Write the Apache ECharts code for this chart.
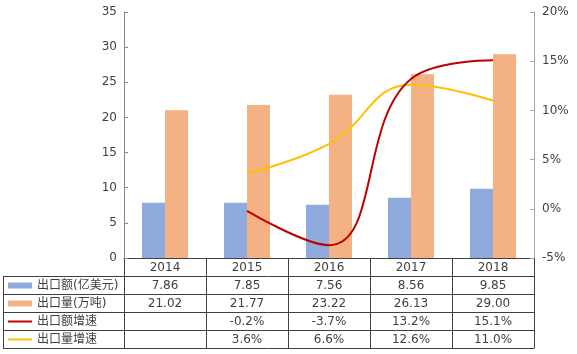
<!DOCTYPE html>
<html>
<head>
<meta charset="utf-8">
<script src="https://cdn.jsdelivr.net/npm/echarts@6/dist/echarts.min.js"></script>
<style>
html,body{margin:0;padding:0;background:#fff;}
#main{width:577px;height:354px;}
</style>
</head>
<body>
<div id="main"></div>
<script>
// 数据
var years = ['2014', '2015', '2016', '2017', '2018'];
var exportValue = [7.86, 7.85, 7.56, 8.56, 9.85];      // 出口额(亿美元)
var exportVolume = [21.02, 21.77, 23.22, 26.13, 29.00]; // 出口量(万吨)
var valueGrowth = [null, -0.2, -3.7, 13.2, 15.1];       // 出口额增速 %
var volumeGrowth = [null, 3.6, 6.6, 12.6, 11.0];        // 出口量增速 %
var names = ['出口额(亿美元)', '出口量(万吨)', '出口额增速', '出口量增速'];

var colors = ['#8FAADC', '#F4B183', '#C00000', '#FFC000'];
var font = 'DejaVu Sans, "Noto Sans CJK SC", sans-serif';
var txt = '#404040';

var gridL = 124, gridR = 534, gridT = 12, gridB = 258;
var rowH = 18, tableL = 3;

var myChart = echarts.init(document.getElementById('main'));

var option = {
	animation: false,
	textStyle: {fontFamily: font},
	grid: {left: gridL, right: 577 - gridR, top: gridT, bottom: 354 - gridB},
	xAxis: {
		type: 'category',
		data: years,
		axisLine: {lineStyle: {color: '#404040'}},
		axisTick: {show: false},
		axisLabel: {color: txt, fontSize: 12, margin: 4, fontFamily: font}
	},
	yAxis: [{
		type: 'value', min: 0, max: 35, interval: 5,
		splitLine: {show: false},
		axisLine: {show: true, lineStyle: {color: '#868686'}},
		axisTick: {show: true, inside: true, length: 4, lineStyle: {color: '#868686'}},
		axisLabel: {color: txt, fontSize: 12, margin: 7, fontFamily: font}
	}, {
		type: 'value', min: -5, max: 20, interval: 5,
		splitLine: {show: false},
		axisLine: {show: true, lineStyle: {color: '#A6A6A6'}},
		axisTick: {show: true, inside: true, length: 4, lineStyle: {color: '#A6A6A6'}},
		axisLabel: {color: txt, fontSize: 12, margin: 8, fontFamily: font, formatter: '{value}%'}
	}],
	series: [{
		name: names[0], type: 'bar', data: exportValue, barWidth: 23, barGap: 0,
		itemStyle: {color: colors[0]}
	}, {
		name: names[1], type: 'bar', data: exportVolume, barWidth: 23, barGap: 0,
		itemStyle: {color: colors[1]}
	}, {
		name: names[3], type: 'line', yAxisIndex: 1, data: volumeGrowth, smooth: 0.45,
		symbol: 'none', lineStyle: {color: colors[3], width: 2}, itemStyle: {color: colors[3]}
	}, {
		name: names[2], type: 'line', yAxisIndex: 1, data: valueGrowth, smooth: 0.45,
		symbol: 'none', lineStyle: {color: colors[2], width: 2}, itemStyle: {color: colors[2]}
	}]
};
myChart.setOption(option);

// 数据表
function buildTable(){
	var els = [];
	var lineColor = '#404040';
	var colW = (gridR - gridL) / years.length;
	var rows = [
		exportValue.map(function(v){return v.toFixed(2);}),
		exportVolume.map(function(v){return v.toFixed(2);}),
		valueGrowth.map(function(v){return v == null ? '' : v.toFixed(1) + '%';}),
		volumeGrowth.map(function(v){return v == null ? '' : v.toFixed(1) + '%';})
	];
	var bottom = gridB + rowH * (rows.length + 1);
	// 横线
	els.push({type: 'line', shape: {x1: gridL, y1: gridB + 0.5, x2: gridR, y2: gridB + 0.5}, style: {stroke: lineColor, lineWidth: 1}});
	for (var r = 0; r <= rows.length; r++) {
		var y = gridB + rowH * (r + 1) + 0.5;
		els.push({type: 'line', shape: {x1: tableL, y1: y, x2: gridR, y2: y}, style: {stroke: lineColor, lineWidth: 1}});
	}
	// 竖线
	els.push({type: 'line', shape: {x1: tableL + 0.5, y1: gridB + rowH, x2: tableL + 0.5, y2: bottom + 0.5}, style: {stroke: lineColor, lineWidth: 1}});
	for (var c = 0; c <= years.length; c++) {
		var x = Math.round(gridL + colW * c) + 0.5;
		els.push({type: 'line', shape: {x1: x, y1: gridB, x2: x, y2: bottom + 0.5}, style: {stroke: lineColor, lineWidth: 1}});
	}
	// 图例 + 名称 + 数值
	for (var i = 0; i < rows.length; i++) {
		var cy = gridB + rowH * (i + 1) + rowH / 2 + 0.5;
		if (i < 2) {
			els.push({type: 'rect', shape: {x: 8, y: cy - 3, width: 24, height: 6}, style: {fill: colors[i]}});
		} else {
			els.push({type: 'line', shape: {x1: 8, y1: cy, x2: 32, y2: cy}, style: {stroke: colors[i], lineWidth: 2}});
		}
		els.push({type: 'text', x: 37, y: cy, style: {text: names[i], fill: txt, font: '12px ' + font, verticalAlign: 'middle', align: 'left'}});
		for (var j = 0; j < years.length; j++) {
			var px = myChart.convertToPixel({xAxisIndex: 0}, years[j]);
			els.push({type: 'text', x: px, y: cy, style: {text: rows[i][j], fill: txt, font: '12px ' + font, verticalAlign: 'middle', align: 'center'}});
		}
	}
	myChart.setOption({graphic: {elements: els}});
}
buildTable();
</script>
</body>
</html>
